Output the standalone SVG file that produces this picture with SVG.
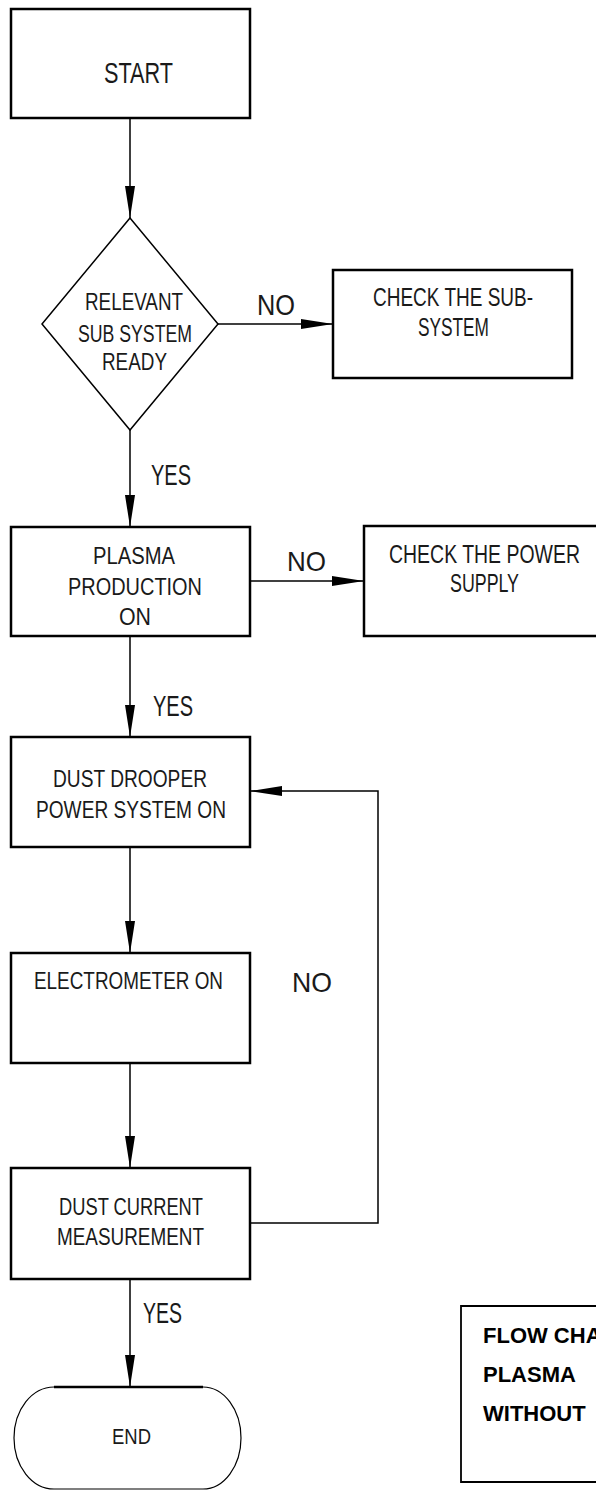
<svg xmlns="http://www.w3.org/2000/svg" width="596" height="1496" viewBox="0 0 596 1496">
<style>
.box{fill:#fff;stroke:#000;stroke-width:2.5}
.thin{fill:none;stroke:#000;stroke-width:1.5}
.con{fill:none;stroke:#000;stroke-width:1.5}
.t{font-family:"Liberation Sans",Arial,sans-serif;fill:#1a1a1a}
.s22{font-size:22px}
.s23{font-size:23px}
.s24{font-size:24px}
.s25{font-size:25px}
.s28{font-size:28px}
.s29{font-size:29px}
.s30{font-size:30px}
.note{font-family:"Liberation Sans",Arial,sans-serif;font-weight:bold;fill:#000;font-size:22px}
</style>
<defs>
<marker id="ah" viewBox="0 0 32 10" refX="32" refY="5" markerWidth="32" markerHeight="10" markerUnits="userSpaceOnUse" orient="auto">
<path d="M0,0 L32,5 L0,10 Z" fill="#000"/>
</marker>
</defs>
<rect width="596" height="1496" fill="#fff"/>

<g id="connectors">
<line class="con" x1="130" y1="118" x2="130" y2="218" marker-end="url(#ah)"/>
<line class="con" x1="218" y1="324" x2="333" y2="324" marker-end="url(#ah)"/>
<line class="con" x1="130" y1="430" x2="130" y2="527" marker-end="url(#ah)"/>
<line class="con" x1="250" y1="581" x2="364" y2="581" marker-end="url(#ah)"/>
<line class="con" x1="130" y1="636" x2="130" y2="737" marker-end="url(#ah)"/>
<line class="con" x1="130" y1="847" x2="130" y2="953" marker-end="url(#ah)"/>
<line class="con" x1="130" y1="1063" x2="130" y2="1168" marker-end="url(#ah)"/>
<polyline class="con" points="250,1223 378,1223 378,791 250,791" marker-end="url(#ah)"/>
<line class="con" x1="130" y1="1279" x2="130" y2="1387" marker-end="url(#ah)"/>
<text class="t s30" x="257" y="315" textLength="38" lengthAdjust="spacingAndGlyphs">NO</text>
<text class="t s30" x="151" y="485" textLength="40" lengthAdjust="spacingAndGlyphs">YES</text>
<text class="t s28" x="287" y="571" textLength="39" lengthAdjust="spacingAndGlyphs">NO</text>
<text class="t s29" x="153" y="716" textLength="40" lengthAdjust="spacingAndGlyphs">YES</text>
<text class="t s28" x="292" y="992" textLength="40" lengthAdjust="spacingAndGlyphs">NO</text>
<text class="t s29" x="143" y="1323" textLength="39" lengthAdjust="spacingAndGlyphs">YES</text>
</g>

<g id="start">
<rect class="box" x="11" y="9" width="239" height="109" stroke-width="2"/>
<text class="t s30" x="104" y="83" textLength="69" lengthAdjust="spacingAndGlyphs">START</text>
</g>

<g id="decision-subsystem">
<polygon class="thin" points="130,218 218,324 130,430 42,324"/>
<text class="t s24" x="85" y="310" textLength="98" lengthAdjust="spacingAndGlyphs">RELEVANT</text>
<text class="t s24" x="78" y="342" textLength="114" lengthAdjust="spacingAndGlyphs">SUB SYSTEM</text>
<text class="t s24" x="102" y="370" textLength="65" lengthAdjust="spacingAndGlyphs">READY</text>
</g>

<g id="check-subsystem">
<rect class="box" x="333" y="270" width="239" height="108" stroke-width="2"/>
<text class="t s25" x="373" y="306" textLength="160" lengthAdjust="spacingAndGlyphs">CHECK THE SUB-</text>
<text class="t s25" x="418" y="336" textLength="71" lengthAdjust="spacingAndGlyphs">SYSTEM</text>
</g>

<g id="plasma">
<rect class="box" x="11" y="527" width="239" height="109"/>
<text class="t s23" x="93" y="564" textLength="82" lengthAdjust="spacingAndGlyphs">PLASMA</text>
<text class="t s23" x="68" y="595" textLength="134" lengthAdjust="spacingAndGlyphs">PRODUCTION</text>
<text class="t s23" x="119" y="625" textLength="32" lengthAdjust="spacingAndGlyphs">ON</text>
</g>

<g id="check-power">
<path d="M596,526 L364,526 L364,636 L596,636" fill="#fff" stroke="#000" stroke-width="2.5"/>
<text class="t s25" x="389" y="563" textLength="191" lengthAdjust="spacingAndGlyphs">CHECK THE POWER</text>
<text class="t s25" x="450" y="592" textLength="69" lengthAdjust="spacingAndGlyphs">SUPPLY</text>
</g>

<g id="dust-drooper">
<rect class="box" x="11" y="737" width="239" height="110"/>
<text class="t s24" x="53" y="787" textLength="154" lengthAdjust="spacingAndGlyphs">DUST DROOPER</text>
<text class="t s24" x="36" y="818" textLength="190" lengthAdjust="spacingAndGlyphs">POWER SYSTEM ON</text>
</g>

<g id="electrometer">
<rect class="box" x="11" y="953" width="239" height="110"/>
<text class="t s24" x="34" y="989" textLength="189" lengthAdjust="spacingAndGlyphs">ELECTROMETER ON</text>
</g>

<g id="dust-current">
<rect class="box" x="11" y="1168" width="239" height="111"/>
<text class="t s24" x="59" y="1215" textLength="144" lengthAdjust="spacingAndGlyphs">DUST CURRENT</text>
<text class="t s24" x="57" y="1245" textLength="147" lengthAdjust="spacingAndGlyphs">MEASUREMENT</text>
</g>

<g id="end">
<path d="M54,1387 A40,51 0 0 0 54,1489 L203,1489 A38,51 0 0 0 203,1387" fill="#fff" stroke="#000" stroke-width="1.2"/>
<line x1="54" y1="1387" x2="203" y2="1387" stroke="#000" stroke-width="2.5"/>
<text class="t s22" x="112" y="1444" textLength="39" lengthAdjust="spacingAndGlyphs">END</text>
</g>

<g id="caption">
<path d="M596,1306 L461,1306 L461,1482 L596,1482" fill="#fff" stroke="#000" stroke-width="1.8"/>
<text class="note" x="483" y="1343">FLOW CHART</text>
<text class="note" x="483" y="1382">PLASMA</text>
<text class="note" x="483" y="1421">WITHOUT</text>
</g>
</svg>
